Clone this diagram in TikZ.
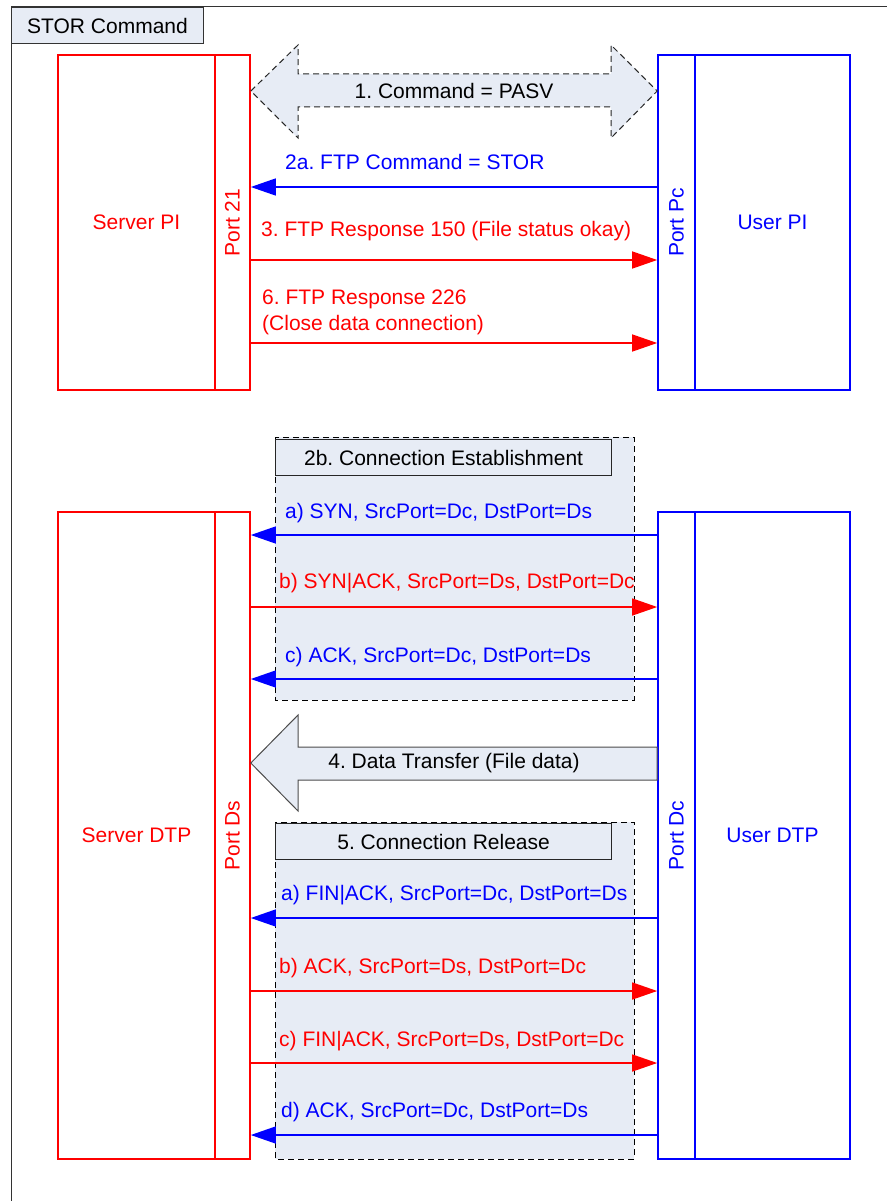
\documentclass[tikz,border=0pt]{standalone}
\usepackage{fontspec}
\setmainfont{Liberation Sans}
\usetikzlibrary{arrows.meta}
\pgfdeclarelayer{background}
\pgfdeclarelayer{foreground}
\pgfsetlayers{background,main,foreground}
\definecolor{panel}{RGB}{231,236,245}
\frenchspacing
\begin{document}
\begin{tikzpicture}[x=1pt,y=-1pt,font=\fontsize{21}{26}\selectfont,
  srvbox/.style={draw=red,line width=1.6pt,inner sep=0pt,text=red},
  usrbox/.style={draw=blue,line width=1.6pt,inner sep=0pt,text=blue},
  msg/.style={line width=1.4pt,-{Triangle[length=25pt,width=17pt]}},
  lbl/.style={anchor=west,inner sep=0pt,text height=15pt,text depth=4pt},
  phase/.style={draw=black!85,line width=1.2pt,fill=panel,inner sep=0pt,minimum width=336pt,minimum height=36pt,anchor=north west},
  longdash/.style={dash pattern=on 6pt off 4pt},
  zone/.style={draw=black,longdash,line width=1pt,fill=panel}]
\useasboundingbox (0,0) rectangle (887,1201);
%frame
\draw[black!80,line width=1pt] (11,1201) -- (11,7) -- (887,7);
\node[draw=black!80,line width=1pt,fill=panel,inner sep=0pt,minimum width=192pt,minimum height=36pt,anchor=north west] (title) at (11,7) {STOR Command};
\begin{pgfonlayer}{background}
\draw[zone] (275,437) rectangle (634,700); %2b
\draw[zone] (275,822) rectangle (634,1159); %5
\end{pgfonlayer}
%PI blocks
\node[srvbox,minimum width=157pt,minimum height=335pt] (spi) at (136.5,222.5) {Server PI};
\node[srvbox,minimum width=35pt,minimum height=335pt] (p21) at (232.5,222.5) {};
\node[rotate=90,text=red] (p21t) at (p21) {Port 21};
\node[usrbox,minimum width=37pt,minimum height=335pt] (ppc) at (676.5,222.5) {};
\node[rotate=90,text=blue] (ppct) at (ppc) {Port Pc};
\node[usrbox,minimum width=155pt,minimum height=335pt] (upi) at (772.5,222.5) {User PI};
%DTP blocks
\node[srvbox,minimum width=157pt,minimum height=647pt] (sdtp) at (136.5,835.5) {Server DTP};
\node[srvbox,minimum width=35pt,minimum height=647pt] (pds) at (232.5,835.5) {};
\node[rotate=90,text=red] (pdst) at (pds) {Port Ds};
\node[usrbox,minimum width=37pt,minimum height=647pt] (pdc) at (676.5,835.5) {};
\node[rotate=90,text=blue] (pdct) at (pdc) {Port Dc};
\node[usrbox,minimum width=155pt,minimum height=647pt] (udtp) at (772.5,835.5) {User DTP};
%1 PASV
\draw[black!85,longdash,line width=1pt,fill=panel] (p21.east |- 0,91) -- (298,45) -- (298,74) -- (611,74) -- (611,45) -- (ppc.west |- 0,91) -- (611,138) -- (611,107) -- (298,107) -- (298,138) -- cycle;
\node (m1) at (454,91) {1. Command = PASV};
%control messages
\draw[msg,blue] (ppc.west |- 0,187) -- (p21.east |- 0,187);
\node[lbl,text=blue] (m2a) at (285,164) {2a. FTP Command = STOR};
\draw[msg,red] (p21.east |- 0,260) -- (ppc.west |- 0,260);
\node[lbl,text=red] (m3) at (261,231) {3. FTP Response 150 (File status okay)};
\draw[msg,red] (p21.east |- 0,343) -- (ppc.west |- 0,343);
\node[anchor=west,inner sep=0pt,align=left,text=red] (m6) at (262,312) {6. FTP Response 226\\(Close data connection)};
%2b
\node[phase] (t2b) at (275,439) {2b. Connection Establishment};
\draw[msg,blue] (pdc.west |- 0,535) -- (pds.east |- 0,535);
\node[lbl,text=blue] (e1) at (285,513) {a) SYN, SrcPort=Dc, DstPort=Ds};
\draw[msg,red] (pds.east |- 0,607) -- (pdc.west |- 0,607);
\node[lbl,text=red] (e2) at (279,583) {b) SYN|ACK, SrcPort=Ds, DstPort=Dc};
\draw[msg,blue] (pdc.west |- 0,679) -- (pds.east |- 0,679);
\node[lbl,text=blue] (e3) at (285,657) {c) ACK, SrcPort=Dc, DstPort=Ds};
%4 data
\draw[black!70,line width=1pt,fill=panel] (pds.east |- 0,763) -- (298,715) -- (298,747) -- (pdc.west |- 0,747) -- (pdc.west |- 0,780) -- (298,780) -- (298,811) -- cycle;
\node (m4) at (454,763) {4. Data Transfer (File data)};
%5
\node[phase] (t5) at (275,823) {5. Connection Release};
\draw[msg,blue] (pdc.west |- 0,918) -- (pds.east |- 0,918);
\node[lbl,text=blue] (r1) at (281,895) {a) FIN|ACK, SrcPort=Dc, DstPort=Ds};
\draw[msg,red] (pds.east |- 0,991) -- (pdc.west |- 0,991);
\node[lbl,text=red] (r2) at (279,968) {b) ACK, SrcPort=Ds, DstPort=Dc};
\draw[msg,red] (pds.east |- 0,1063) -- (pdc.west |- 0,1063);
\node[lbl,text=red] (r3) at (279,1041) {c) FIN|ACK, SrcPort=Ds, DstPort=Dc};
\draw[msg,blue] (pdc.west |- 0,1135) -- (pds.east |- 0,1135);
\node[lbl,text=blue] (r4) at (281,1112) {d) ACK, SrcPort=Dc, DstPort=Ds};
\end{tikzpicture}
\end{document}
